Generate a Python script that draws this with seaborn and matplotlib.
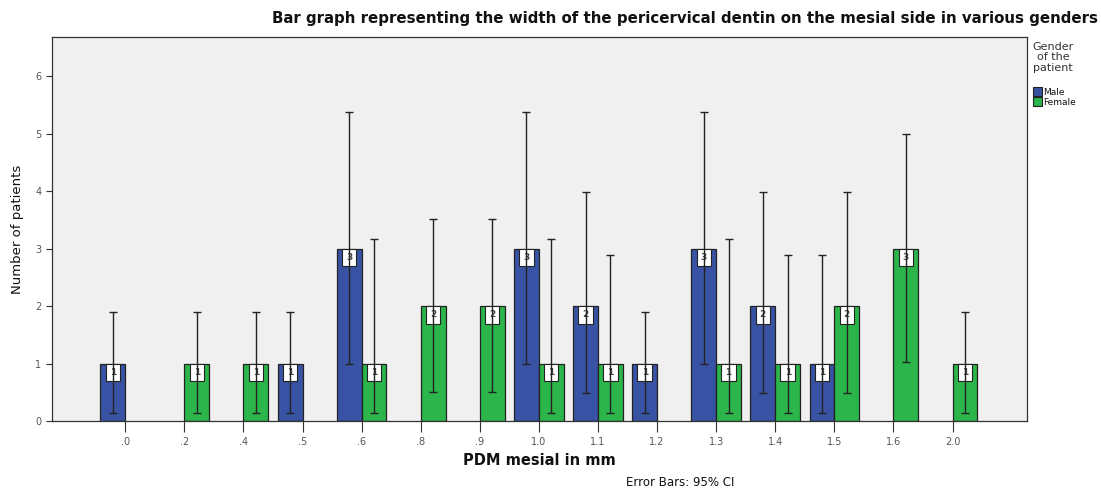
import numpy as np
import pandas as pd
import matplotlib
matplotlib.use("Agg")
import matplotlib.pyplot as plt
import seaborn as sns

# values
pdm = [".0", ".2", ".4", ".5", ".6", ".8", ".9", "1.0", "1.1", "1.2", "1.3", "1.4", "1.5", "1.6", "2.0"]
male = [1, 0, 0, 1, 3, 0, 0, 3, 2, 1, 3, 2, 1, 0, 0]
female = [0, 1, 1, 0, 1, 2, 2, 1, 1, 0, 1, 1, 2, 3, 1]
nan = np.nan
male_lo = [0.14, nan, nan, 0.14, 0.99, nan, nan, 0.99, 0.49, 0.14, 0.99, 0.49, 0.14, nan, nan]
male_hi = [1.89, nan, nan, 1.89, 5.38, nan, nan, 5.38, 3.98, 1.89, 5.38, 3.98, 2.89, nan, nan]
female_lo = [nan, 0.14, 0.14, nan, 0.14, 0.50, 0.50, 0.14, 0.14, nan, 0.14, 0.14, 0.49, 1.02, 0.14]
female_hi = [nan, 1.89, 1.89, nan, 3.16, 3.52, 3.52, 3.16, 2.89, nan, 3.16, 2.89, 3.98, 5.00, 1.89]
genders = ["Male", "Female"]
colors = ["#3953a4", "#2bb54a"]

df = pd.DataFrame({
    "PDM": pdm * 2,
    "count": male + female,
    "Gender": ["Male"] * len(pdm) + ["Female"] * len(pdm),
})

sns.set_theme(style="ticks")
plt.rcParams["font.family"] = ["DejaVu Sans"]
plt.rcParams["text.color"] = "#111111"
plt.rcParams["axes.labelcolor"] = "#111111"

fig = plt.figure(figsize=(11.01, 4.91), dpi=100)
ax = fig.add_axes([0.0472, 0.1426, 0.8856, 0.782])
ax.set_facecolor("#f0f0f0")

sns.barplot(data=df, x="PDM", y="count", hue="Gender", order=pdm,
            hue_order=genders, palette=colors, saturation=1, width=0.84,
            errorbar=None, edgecolor="#222222", linewidth=0.9, legend=False, ax=ax)

lows = [male_lo, female_lo]
highs = [male_hi, female_hi]
bar_conts = list(ax.containers)[:2]
for k, cont in enumerate(bar_conts):
    for i, bar in enumerate(cont):
        h = bar.get_height()
        if h == 0:
            bar.set_visible(False)
            continue
        xc = bar.get_x() + bar.get_width() / 2
        ax.annotate(str(int(h)), (xc, h), xytext=(0, -3.2), textcoords="offset points",
                    ha="center", va="top", fontsize=6.5, fontweight="bold", color="#444444",
                    bbox=dict(boxstyle="square,pad=0.45", fc="white", ec="#222222", lw=0.8),
                    zorder=3)
        ax.errorbar(xc, h, yerr=[[h - lows[k][i]], [highs[k][i] - h]],
                    fmt="none", ecolor="#222222", elinewidth=1.0, capsize=3,
                    capthick=1.0, zorder=4)

ax.set_xlim(-1.24, 15.26)
ax.set_ylim(0, 6.68)
ax.set_yticks(range(7))
ax.tick_params(axis="both", labelsize=7, colors="#333333", labelcolor="#555555")
ax.tick_params(axis="x", length=8, width=0.8)
ax.tick_params(axis="y", length=4, width=0.8)
for s in ax.spines.values():
    s.set_color("#333333")
    s.set_linewidth(0.9)

ax.set_xlabel("PDM mesial in mm", fontsize=10.5, fontweight="bold", labelpad=4)
ax.set_ylabel("Number of patients", fontsize=9.5, labelpad=8)

handles = [plt.Rectangle((0, 0), 1, 1, fc=c, ec="#222222", lw=0.8) for c in colors]
leg = ax.legend(handles, genders, title="Gender\nof the\npatient",
                loc="upper left", bbox_to_anchor=(1.001, 1.0), frameon=False,
                fontsize=6.5, title_fontsize=8, handlelength=1.0,
                handleheight=1.2, handletextpad=0.2, labelspacing=0.05,
                borderaxespad=0.1)
leg.get_title().set_multialignment("center")
leg.get_title().set_linespacing(1.1)
leg.get_title().set_color("#333333")
leg._legend_box.align = "left"
leg._legend_box.sep = 10

fig.text(0.618, 0.004, "Error Bars: 95% CI", ha="center", va="bottom", fontsize=8.5)
fig.text(0.997, 0.963, "Bar graph representing the width of the pericervical dentin "
         "on the mesial side in various genders", ha="right", va="center",
         fontsize=10.8, fontweight="bold")

fig.savefig("out.png", dpi=100)
